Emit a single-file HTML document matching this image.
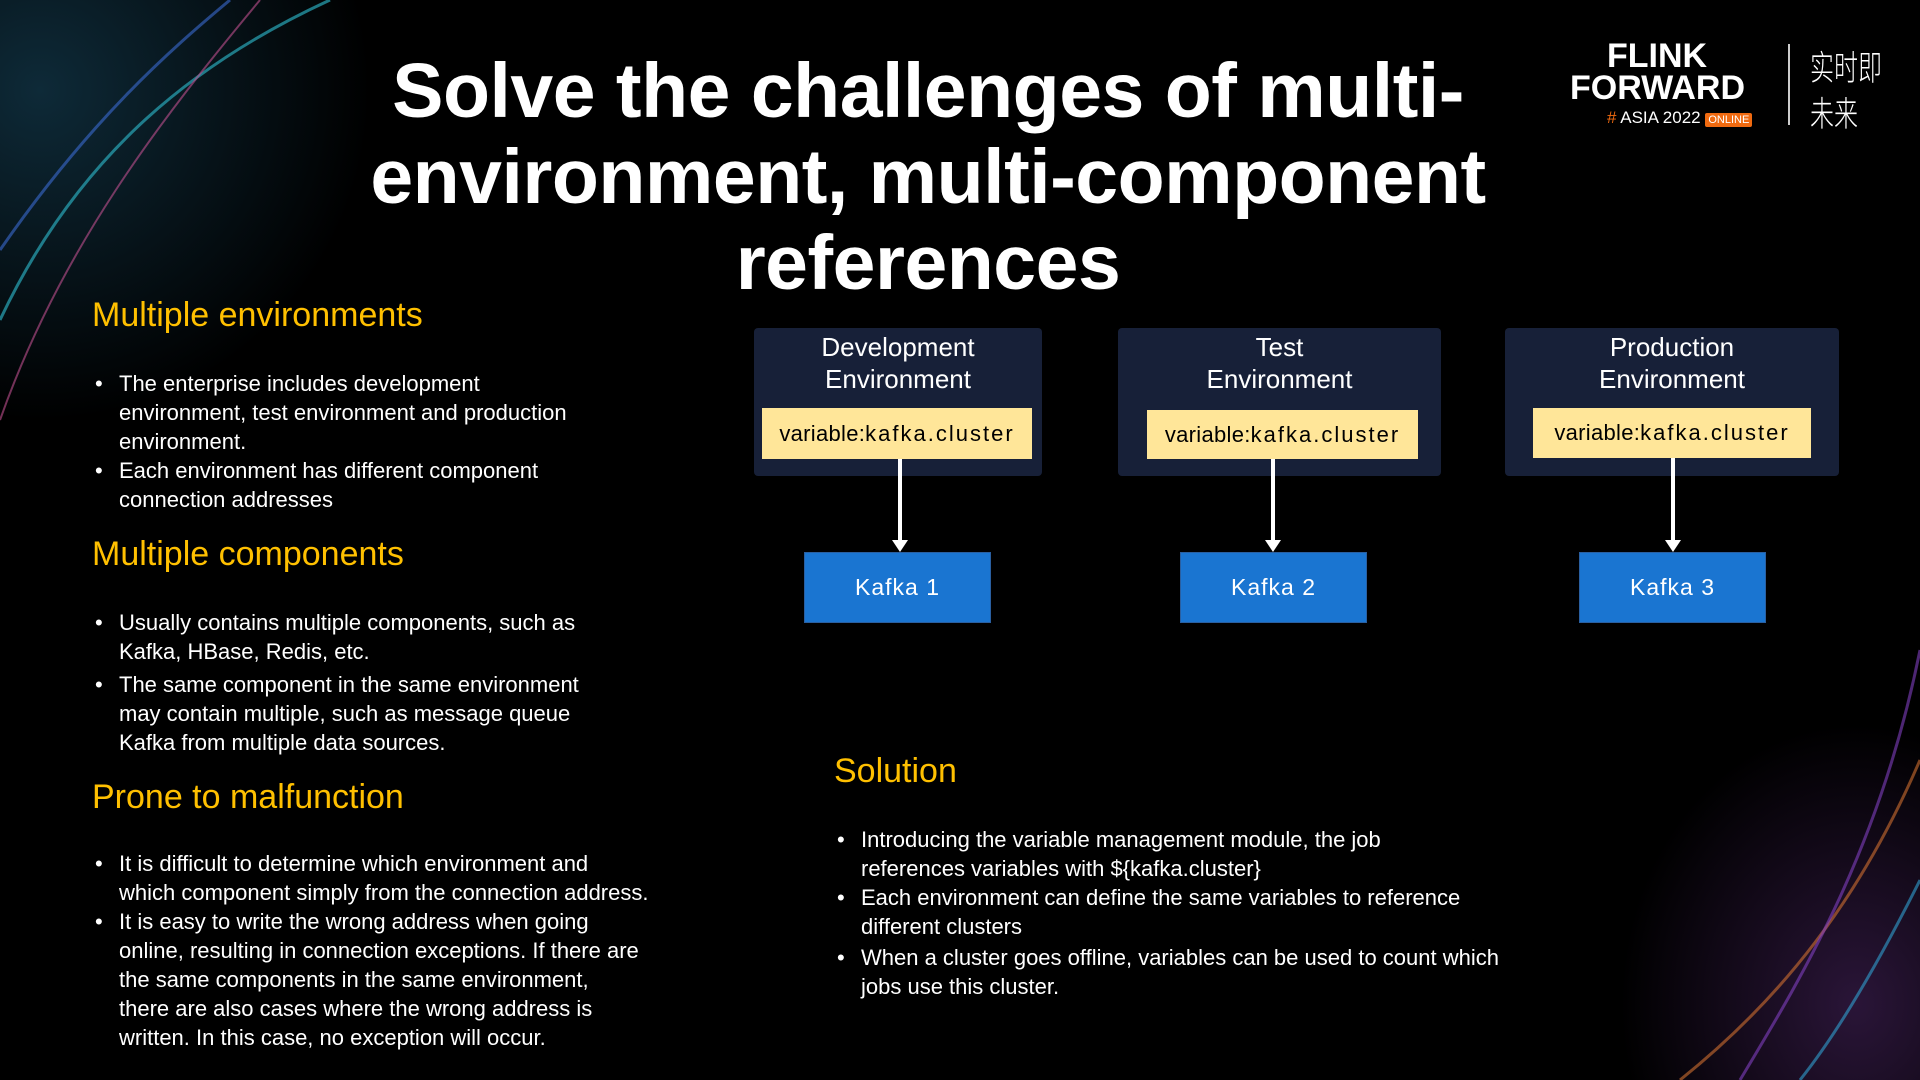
<!DOCTYPE html>
<html style="width:1920px;height:1080px;overflow:hidden"><head><meta charset="utf-8"><style>
*{margin:0;padding:0;box-sizing:border-box}
body{width:1920px;height:1080px;overflow:hidden;background:#000;position:relative;font-family:"Liberation Sans",Arial,sans-serif;color:#fff}
.abs{position:absolute}
.title{left:260px;width:1336px;top:48px;text-align:center;font-weight:bold;font-size:77px;line-height:86px;letter-spacing:-0.5px}
.h{color:#FFC000;font-size:34px;left:92px}
.b{font-size:22px;line-height:29px;left:119px;white-space:nowrap}
.b li{list-style:none;position:relative}
.b li:before{content:"•";position:absolute;left:-24px}
.env{background:#172038;border-radius:4px;text-align:center;font-size:26px;line-height:32px;padding-top:3px}
.var{background:#FFE699;color:#000;font-size:22px;display:flex;align-items:center;justify-content:center;letter-spacing:0.3px}
.var span{letter-spacing:2px}
.k{background:#1A75D1;font-size:23px;display:flex;align-items:center;justify-content:center;letter-spacing:1px;border:1px solid #2a5fa0}
.arr{width:4px;background:#fff}
.ah{width:0;height:0;border-left:8px solid transparent;border-right:8px solid transparent;border-top:12px solid #fff}
</style></head><body>
<div class="abs" style="left:-200px;top:-150px;width:600px;height:600px;background:radial-gradient(ellipse at 40% 40%,rgba(40,120,160,0.35),rgba(0,0,0,0) 65%)"></div>
<div class="abs" style="left:1600px;top:700px;width:320px;height:380px;background:radial-gradient(ellipse at 80% 80%,rgba(120,60,160,0.35),rgba(0,0,0,0) 65%)"></div>
<svg class="abs" style="left:0;top:0" width="1920" height="1080">
<path d="M0 320 C80 150 200 60 330 0" stroke="#2aa6b8" stroke-width="3" fill="none" opacity=".7"/>
<path d="M0 420 C60 250 160 120 260 0" stroke="#c05090" stroke-width="2" fill="none" opacity=".6"/>
<path d="M0 250 C90 120 170 50 230 0" stroke="#3a6ad0" stroke-width="3" fill="none" opacity=".6"/>
<path d="M1920 760 C1860 900 1780 1000 1680 1080" stroke="#d07030" stroke-width="3" fill="none" opacity=".6"/>
<path d="M1920 650 C1880 850 1800 980 1740 1080" stroke="#8040c0" stroke-width="3" fill="none" opacity=".6"/>
<path d="M1920 880 C1880 960 1840 1030 1800 1080" stroke="#30a0d0" stroke-width="3" fill="none" opacity=".6"/>
</svg>
<div class="abs title">Solve the challenges of multi-<br>environment, multi-component<br>references</div>

<div class="abs" style="left:1570px;top:40px;font-weight:bold;font-size:34px;line-height:32px;white-space:nowrap"><span style="padding-left:37px">FLINK</span><br>FORWARD</div>
<div class="abs" style="left:1607px;top:108px;font-size:17px;white-space:nowrap"><span style="color:#f06a10">#</span> ASIA 2022 <span style="background:#f06a10;font-size:11px;padding:1px 3px;border-radius:2px">ONLINE</span></div>
<div class="abs" style="left:1788px;top:44px;width:2px;height:81px;background:#ccc"></div>
<div class="abs" style="left:1810px;top:42px;font-size:30px;line-height:40px;font-family:'Noto Sans CJK SC',sans-serif;font-weight:300;transform:scale(0.8,1.15);transform-origin:0 0;white-space:nowrap">实时即<br>未来</div>

<div class="abs h" style="top:296px">Multiple environments</div>
<ul class="abs b" style="top:369px"><li>The enterprise includes development<br>environment, test environment and production<br>environment.</li><li>Each environment has different component<br>connection addresses</li></ul>
<div class="abs h" style="top:535px">Multiple components</div>
<ul class="abs b" style="top:608px"><li>Usually contains multiple components, such as<br>Kafka, HBase, Redis, etc.</li><li style="margin-top:4px">The same component in the same environment<br>may contain multiple, such as message queue<br>Kafka from multiple data sources.</li></ul>
<div class="abs h" style="top:778px">Prone to malfunction</div>
<ul class="abs b" style="top:849px"><li>It is difficult to determine which environment and<br>which component simply from the connection address.</li><li>It is easy to write the wrong address when going<br>online, resulting in connection exceptions. If there are<br>the same components in the same environment,<br>there are also cases where the wrong address is<br>written. In this case, no exception will occur.</li></ul>

<div class="abs env" style="left:754px;top:328px;width:288px;height:148px">Development<br>Environment</div>
<div class="abs env" style="left:1118px;top:328px;width:323px;height:148px">Test<br>Environment</div>
<div class="abs env" style="left:1505px;top:328px;width:334px;height:148px">Production<br>Environment</div>
<div class="abs var" style="left:762px;top:408px;width:270px;height:51px">variable:<span>kafka.cluster</span></div>
<div class="abs var" style="left:1147px;top:410px;width:271px;height:49px">variable:<span>kafka.cluster</span></div>
<div class="abs var" style="left:1533px;top:408px;width:278px;height:50px">variable:<span>kafka.cluster</span></div>
<div class="abs arr" style="left:898px;top:459px;height:82px"></div><div class="abs ah" style="left:892px;top:540px"></div>
<div class="abs arr" style="left:1271px;top:459px;height:82px"></div><div class="abs ah" style="left:1265px;top:540px"></div>
<div class="abs arr" style="left:1671px;top:458px;height:83px"></div><div class="abs ah" style="left:1665px;top:540px"></div>
<div class="abs k" style="left:804px;top:552px;width:187px;height:71px">Kafka 1</div>
<div class="abs k" style="left:1180px;top:552px;width:187px;height:71px">Kafka 2</div>
<div class="abs k" style="left:1579px;top:552px;width:187px;height:71px">Kafka 3</div>

<div class="abs h" style="left:834px;top:752px">Solution</div>
<ul class="abs b" style="left:861px;top:825px"><li>Introducing the variable management module, the job<br>references variables with ${kafka.cluster}</li><li>Each environment can define the same variables to reference<br>different clusters</li><li style="margin-top:2px">When a cluster goes offline, variables can be used to count which<br>jobs use this cluster.</li></ul>
</body></html>
